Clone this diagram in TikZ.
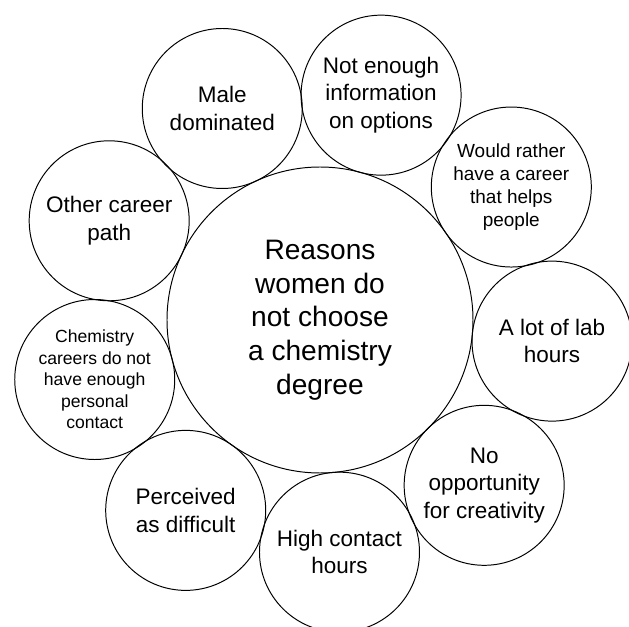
\documentclass[tikz,border=0pt]{standalone}
\usepackage{fontspec}
\setmainfont{Liberation Sans}

\begin{document}
\begin{tikzpicture}[
        hub/.style={draw, circle, line width=0.7pt, minimum size=7.65cm, inner sep=0pt, align=center, font=\fontsize{20}{24}\selectfont},
        reason/.style={draw, circle, line width=0.7pt, minimum size=4cm, inner sep=0pt, align=center, font=\fontsize{16}{19.5}\selectfont},
        smallreason/.style={reason, font=\fontsize{13.5}{16.5}\selectfont},
        tinyreason/.style={reason, font=\fontsize{12.5}{15.3}\selectfont}
    ]
        \useasboundingbox (-8,-7.675) rectangle (7.725,8);

        % Central topic
        \node[hub] (hub) at (0,0) {Reasons\\women do\\not choose\\a chemistry\\degree};

        % Reasons around it, clockwise from the top left
        \node[reason] (male) at (114.8:5.825) {Male\\dominated};
        \node[reason] (info) at (74.8:5.825) {Not enough\\information\\on options};
        \node[smallreason] (helps) at (34.8:5.825) {Would rather\\have a career\\that helps\\people};
        \node[reason] (lab) at (-5.2:5.825) {A lot of lab\\hours};
        \node[reason] (creativity) at (-45.2:5.825) {No\\opportunity\\for creativity};
        \node[reason] (contact) at (-85.2:5.825) {High contact\\hours};
        \node[reason] (difficult) at (-125.2:5.825) {Perceived\\as difficult};
        \node[tinyreason] (personal) at (-165.2:5.825) {Chemistry\\careers do not\\have enough\\personal\\contact};
        \node[reason] (other) at (154.8:5.825) {Other career\\path};

    \end{tikzpicture}
\end{document}
